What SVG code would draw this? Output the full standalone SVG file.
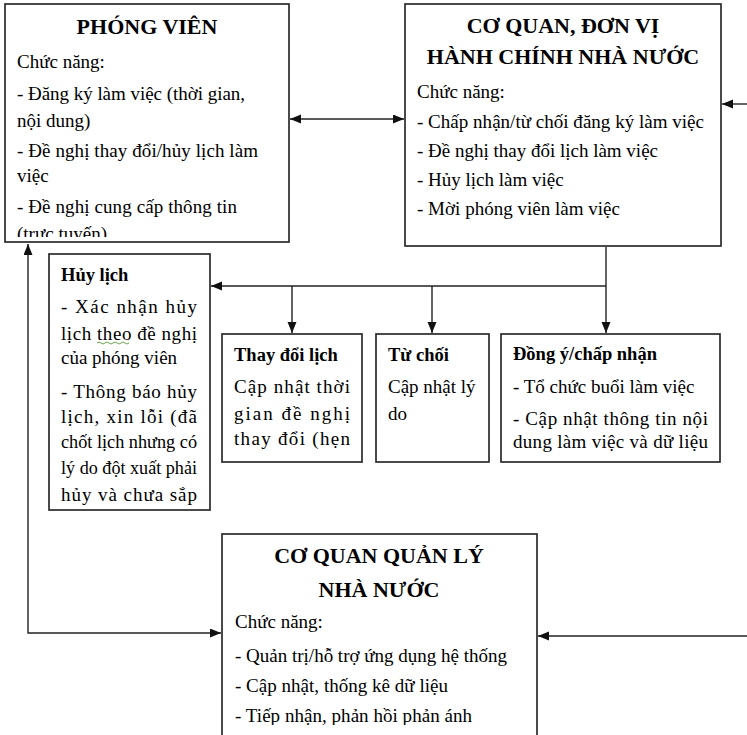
<svg xmlns="http://www.w3.org/2000/svg" width="747" height="735" viewBox="0 0 747 735">
<style>
.box{fill:#fff;stroke:#2b2b2b;stroke-width:1.7}
.t{font-family:"Liberation Serif","Times New Roman",serif;font-size:19px;fill:#000}
.h{font-family:"Liberation Serif","Times New Roman",serif;font-size:22px;font-weight:bold;fill:#000;text-anchor:middle}
.b{font-family:"Liberation Serif","Times New Roman",serif;font-size:18.5px;font-weight:bold;fill:#000}
.ln{fill:none;stroke:#222;stroke-width:1.4}
</style>
<defs>
<marker id="ah" markerUnits="userSpaceOnUse" markerWidth="12" markerHeight="10" refX="11" refY="4.5" orient="auto-start-reverse"><path d="M0,0 L11,4.5 L0,9 z" fill="#111"/></marker>
<clipPath id="cPV"><rect x="6" y="5" width="282" height="232"/></clipPath>
<clipPath id="cCQ"><rect x="406" y="5" width="314" height="236"/></clipPath>
<clipPath id="cHL"><rect x="50" y="255" width="159" height="250"/></clipPath>
<clipPath id="cQL"><rect x="223" y="534" width="313" height="191"/></clipPath>
</defs>
<rect width="747" height="735" fill="#fff"/>

<g id="connectors">
<line class="ln" x1="290" y1="119" x2="404" y2="119" marker-start="url(#ah)" marker-end="url(#ah)"/>
<line class="ln" x1="747" y1="104" x2="722" y2="104" marker-end="url(#ah)"/>
<line class="ln" x1="606" y1="247" x2="606" y2="333" marker-end="url(#ah)"/>
<line class="ln" x1="606" y1="286" x2="211" y2="286" marker-end="url(#ah)"/>
<line class="ln" x1="292" y1="286" x2="292" y2="333" marker-end="url(#ah)"/>
<line class="ln" x1="432" y1="286" x2="432" y2="333" marker-end="url(#ah)"/>
<polyline class="ln" points="28,244 28,633 221,633" marker-start="url(#ah)" marker-end="url(#ah)"/>
<line class="ln" x1="747" y1="636" x2="538" y2="636" marker-end="url(#ah)"/>
</g>

<g id="phong-vien">
<rect class="box" x="5" y="4" width="284" height="238"/>
<text class="h" x="147" y="34">PHÓNG VIÊN</text>
<g clip-path="url(#cPV)">
<text class="t" x="17" y="68">Chức năng:</text>
<text class="t" x="17" y="100" textLength="228" lengthAdjust="spacing">- Đăng ký làm việc (thời gian,</text>
<text class="t" x="17" y="127">nội dung)</text>
<text class="t" x="17" y="157" textLength="241" lengthAdjust="spacing">- Đề nghị thay đổi/hủy lịch làm</text>
<text class="t" x="17" y="182">việc</text>
<text class="t" x="17" y="213" textLength="220" lengthAdjust="spacing">- Đề nghị cung cấp thông tin</text>
<text class="t" x="17" y="240">(trực tuyến)</text>
</g>
</g>

<g id="co-quan-don-vi">
<rect class="box" x="405" y="4" width="316" height="242"/>
<text class="h" x="563" y="33">CƠ QUAN, ĐƠN VỊ</text>
<text class="h" x="563" y="64">HÀNH CHÍNH NHÀ NƯỚC</text>
<g clip-path="url(#cCQ)">
<text class="t" x="417" y="98">Chức năng:</text>
<text class="t" x="417" y="128" textLength="287" lengthAdjust="spacing">- Chấp nhận/từ chối đăng ký làm việc</text>
<text class="t" x="417" y="157" textLength="241" lengthAdjust="spacing">- Đề nghị thay đổi lịch làm việc</text>
<text class="t" x="417" y="186">- Hủy lịch làm việc</text>
<text class="t" x="417" y="215" textLength="203" lengthAdjust="spacing">- Mời phóng viên làm việc</text>
</g>
</g>

<g id="huy-lich">
<rect class="box" x="49" y="254" width="161" height="256"/>
<g clip-path="url(#cHL)">
<text class="b" x="61" y="281">Hủy lịch</text>
<text class="t" x="61" y="313" textLength="136" lengthAdjust="spacing">- Xác nhận hủy</text>
<text class="t" x="61" y="340" textLength="136" lengthAdjust="spacing">lịch theo đề nghị</text>
<path d="M97,343 q2,-2 4,0 t4,0 t4,0 t4,0 t4,0 t4,0 t4,0 t4,0" fill="none" stroke="#5a9a3a" stroke-width="0.9"/>
<text class="t" x="61" y="364">của phóng viên</text>
<text class="t" x="61" y="398" textLength="136" lengthAdjust="spacing">- Thông báo hủy</text>
<text class="t" x="61" y="423" textLength="136" lengthAdjust="spacing">lịch, xin lỗi (đã</text>
<text class="t" x="61" y="448" textLength="136" lengthAdjust="spacingAndGlyphs">chốt lịch nhưng có</text>
<text class="t" x="61" y="474" textLength="136" lengthAdjust="spacingAndGlyphs">lý do đột xuất phải</text>
<text class="t" x="61" y="501" textLength="136" lengthAdjust="spacing">hủy và chưa sắp</text>
</g>
</g>

<g id="thay-doi-lich">
<rect class="box" x="222" y="334" width="140" height="128"/>
<text class="b" x="234" y="361">Thay đổi lịch</text>
<text class="t" x="234" y="393" textLength="116" lengthAdjust="spacing">Cập nhật thời</text>
<text class="t" x="234" y="420" textLength="116" lengthAdjust="spacing">gian đề nghị</text>
<text class="t" x="234" y="445" textLength="116" lengthAdjust="spacing">thay đổi (hẹn</text>
</g>

<g id="tu-choi">
<rect class="box" x="376" y="334" width="113" height="128"/>
<text class="b" x="388" y="361">Từ chối</text>
<text class="t" x="388" y="393">Cập nhật lý</text>
<text class="t" x="388" y="420">do</text>
</g>

<g id="dong-y">
<rect class="box" x="501" y="334" width="219" height="128"/>
<text class="b" x="513" y="360">Đồng ý/chấp nhận</text>
<text class="t" x="513" y="393">- Tổ chức buổi làm việc</text>
<text class="t" x="513" y="425" textLength="195" lengthAdjust="spacing">- Cập nhật thông tin nội</text>
<text class="t" x="513" y="448" textLength="195" lengthAdjust="spacing">dung làm việc và dữ liệu</text>
</g>

<g id="co-quan-quan-ly">
<rect class="box" x="222" y="534" width="315" height="205"/>
<text class="h" x="379" y="563">CƠ QUAN QUẢN LÝ</text>
<text class="h" x="379" y="597">NHÀ NƯỚC</text>
<g clip-path="url(#cQL)">
<text class="t" x="235" y="628">Chức năng:</text>
<text class="t" x="235" y="662" textLength="272" lengthAdjust="spacing">- Quản trị/hỗ trợ ứng dụng hệ thống</text>
<text class="t" x="235" y="692" textLength="213" lengthAdjust="spacing">- Cập nhật, thống kê dữ liệu</text>
<text class="t" x="235" y="722" textLength="237" lengthAdjust="spacing">- Tiếp nhận, phản hồi phản ánh</text>
</g>
</g>
</svg>
